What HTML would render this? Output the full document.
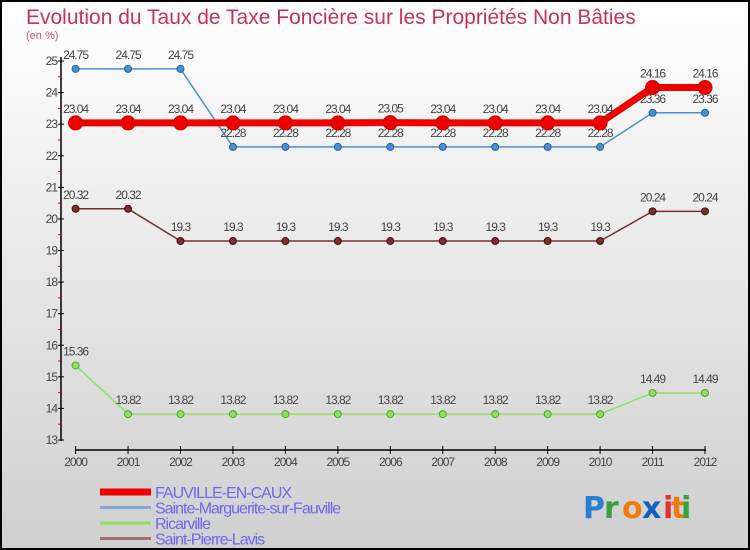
<!DOCTYPE html>
<html><head><meta charset="utf-8"><style>
body{margin:0;width:750px;height:550px;overflow:hidden;font-family:"Liberation Sans",sans-serif}
svg{display:block}
</style></head><body>
<svg width="750" height="550" xmlns="http://www.w3.org/2000/svg">
<defs><linearGradient id="bg" x1="0" y1="0" x2="0" y2="1"><stop offset="0" stop-color="#ffffff"/><stop offset="1" stop-color="#cfcfcf"/></linearGradient></defs>
<rect x="1" y="1" width="748" height="548" fill="url(#bg)" stroke="#000" stroke-width="2"/>
<text x="26" y="24" font-size="21" fill="#c8325a">Evolution du Taux de Taxe Foncière sur les Propriétés Non Bâties</text>
<text x="26" y="39" font-size="11" fill="#c8507a">(en %)</text>
<g id="axes"></g><g id="series"></g><g id="legend"></g>
<g font-size="30" font-family="DejaVu Sans, sans-serif" font-weight="bold">
<text x="583" y="518" fill="#2a7fd0">P</text><text x="604" y="518" fill="#3aa040">r</text><text x="622" y="518" fill="#f07a10">o</text><text x="642" y="518" fill="#1060c0">x</text><text x="663" y="518" fill="#e03030">i</text><text x="671" y="518" fill="#f07a10">t</text><text x="681" y="518" fill="#3aa040">i</text>
</g>
</svg>
<script>
const years=[2000,2001,2002,2003,2004,2005,2006,2007,2008,2009,2010,2011,2012];
const yTicks=[13,14,15,16,17,18,19,20,21,22,23,24,25];
const fauville=[23.04,23.04,23.04,23.04,23.04,23.04,23.05,23.04,23.04,23.04,23.04,24.16,24.16];
const sainteMarguerite=[24.75,24.75,24.75,22.28,22.28,22.28,22.28,22.28,22.28,22.28,22.28,23.36,23.36];
const ricarville=[15.36,13.82,13.82,13.82,13.82,13.82,13.82,13.82,13.82,13.82,13.82,14.49,14.49];
const saintPierre=[20.32,20.32,19.3,19.3,19.3,19.3,19.3,19.3,19.3,19.3,19.3,20.24,20.24];
const NS="http://www.w3.org/2000/svg";
const x=i=>75.6+i*(705-75.6)/12;
const y=v=>61+(25-v)*(440-61)/12;
function mk(t,a,p){const e=document.createElementNS(NS,t);for(const k in a)e.setAttribute(k,a[k]);p.appendChild(e);return e;}
const ax=document.getElementById('axes');
let l=mk('line',{x1:61,y1:57,x2:61,y2:441,stroke:'#000','stroke-width':1.5},ax);


l=mk('line',{x1:75,y1:450,x2:706,y2:450,stroke:'#000','stroke-width':1.5},ax);


yTicks.forEach((v,i)=>{
 mk('line',{x1:58,y1:y(v),x2:64,y2:y(v),stroke:'#000'},ax);
 if(i<yTicks.length-1)mk('line',{x1:58,y1:y(v+0.5),x2:61,y2:y(v+0.5),stroke:'#e00'},ax);
 const t=mk('text',{x:57,y:y(v)+4,'text-anchor':'end','font-size':12,fill:'#444','letter-spacing':'-1'},ax);
 t.textContent=v;
 
 
});
years.forEach((yr,i)=>{
 mk('line',{x1:x(i),y1:446,x2:x(i),y2:454,stroke:'#000'},ax);
 const t=mk('text',{x:x(i),y:466,'text-anchor':'middle','font-size':12,fill:'#444','letter-spacing':'-1'},ax);
 t.textContent=yr;
 
 
});
const sg=document.getElementById('series');
function draw(data,color,dot,w,r,name){
 const g=mk('g',{},sg);
 
 
 mk('polyline',{points:data.map((v,i)=>x(i)+','+y(v)).join(' '),fill:'none',stroke:color,'stroke-width':w},g);
 data.forEach((v,i)=>{
  const c=mk('circle',{cx:x(i),cy:y(v),r:r,fill:color,stroke:dot,'stroke-width':1},g);
  
  
  const t=mk('text',{x:x(i),y:y(v)-10,'text-anchor':'middle','font-size':12,fill:'#444','letter-spacing':'-1'},g);
  t.textContent=v;
  
  
 });
}
draw(saintPierre,'#7a3030','#4a1010',1.5,3.5,'series-saint-pierre-lavis');
draw(ricarville,'#90e060','#50a030',1.5,3.5,'series-ricarville');
draw(sainteMarguerite,'#4a90d0','#2060a0',1.5,3.5,'series-sainte-marguerite');
draw(fauville,'#ee0000','#cc0000',7,7,'series-fauville-en-caux');
const lg=document.getElementById('legend');
[['FAUVILLE-EN-CAUX','#ee0000',7],['Sainte-Marguerite-sur-Fauville','#80a8d0',3],['Ricarville','#90e060',3],['Saint-Pierre-Lavis','#a07070',3]].forEach((e,i)=>{
 const g=mk('g',{},lg);
 
 
 const yy=492+i*15.5;
 mk('line',{x1:100,y1:yy,x2:151,y2:yy,stroke:e[1],'stroke-width':e[2]},g);
 const t=mk('text',{x:155,y:yy+6,'font-size':16,fill:'#6a6af0','letter-spacing':'-1'},g);
 t.textContent=e[0];
});
</script>
</body></html>
